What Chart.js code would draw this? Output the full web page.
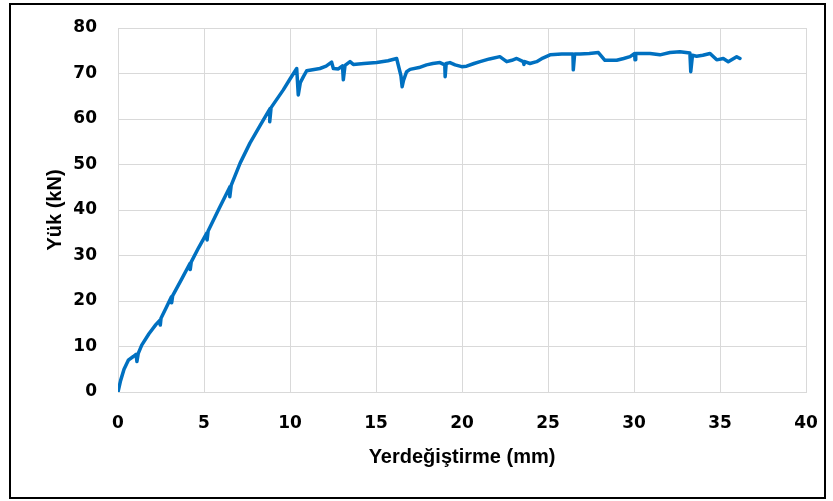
<!DOCTYPE html>
<html><head><meta charset="utf-8">
<script src="https://cdn.jsdelivr.net/npm/chart.js@4"></script>
<style>
html,body{margin:0;padding:0;background:#fff;width:833px;height:501px;overflow:hidden}
#frame{position:absolute;left:9px;top:3px;width:813px;height:492px;border:2px solid #000;}
canvas{position:absolute;left:0;top:0}
</style></head>
<body><div id="frame"></div><canvas id="c" width="833" height="501"></canvas>
<script>
const displacement = [0,0.15,0.35,0.6,0.89,1.05,1.1,1.18,1.38,1.8,2.2,2.44,2.46,2.5,2.8,3.1,3.12,3.18,3.7,4.19,4.2,4.26,4.7,5.16,5.18,5.24,5.9,6.51,6.5,6.58,7.1,7.67,8.3,8.84,8.82,8.9,9.61,10.0,10.39,10.48,10.6,10.78,10.97,11.4,11.74,12.1,12.42,12.52,12.81,13.05,13.1,13.2,13.49,13.68,14.3,15.04,15.7,16.2,16.45,16.52,16.6,16.78,16.98,17.5,17.94,18.3,18.72,19.0,19.02,19.08,19.3,19.6,19.98,20.27,20.7,21.05,21.6,22.2,22.6,22.9,23.18,23.56,23.6,23.65,23.95,24.34,24.7,25.12,25.8,26.45,26.47,26.55,26.86,27.4,27.93,28.31,28.99,29.4,29.77,30.04,30.06,30.1,30.93,31.51,32.09,32.67,33.25,33.3,33.4,33.64,34.0,34.42,34.81,35.19,35.48,35.97,36.16];
const load = [0,2.5,5,7,7.8,8.3,6.7,8.5,10.3,12.8,14.8,15.8,14.7,16.2,18.5,20.9,19.6,21.2,24.8,28.3,26.9,28.6,31.8,34.9,33.4,35.4,40.5,45.1,42.9,45.4,50.3,54.7,58.8,62.3,59.4,62.5,66.4,68.8,71.1,65.3,68.0,69.3,70.6,70.9,71.1,71.6,72.5,71.1,71.0,71.7,68.6,71.8,72.6,72.0,72.2,72.4,72.8,73.3,69.5,67.1,68.5,70.4,70.9,71.3,71.9,72.2,72.4,71.9,69.3,72.2,72.4,71.9,71.5,71.6,72.2,72.6,73.2,73.7,72.6,72.9,73.3,72.6,72.0,72.6,72.2,72.6,73.4,74.1,74.3,74.3,70.8,74.3,74.3,74.4,74.6,72.9,72.9,73.3,73.7,74.4,73.0,74.4,74.4,74.1,74.6,74.8,74.5,70.4,74.0,73.8,74.0,74.4,73.0,73.3,72.6,73.7,73.3];
const xTitle = "Yerdeğiştirme (mm)";
const yTitle = "Yük (kN)";

const pts = displacement.map((x,i)=>({x:x,y:load[i]}));
const tickFont = {family:"'DejaVu Sans'", weight:'bold', size:17};
const titleFont = {family:"'Liberation Sans'", weight:'bold', size:20};
new Chart(document.getElementById('c'), {
  type:'scatter',
  data:{datasets:[{data:pts, showLine:true, borderColor:'#0070C0', backgroundColor:'#0070C0', borderWidth:3.5, pointRadius:0, tension:0, borderJoinStyle:'round', borderCapStyle:'round'}]},
  options:{
    responsive:false, animation:false,
    layout:{padding:{top:28,right:27,left:0,bottom:0}},
    plugins:{legend:{display:false}, tooltip:{enabled:false}},
    scales:{
      x:{type:'linear', min:0, max:40,
        ticks:{stepSize:5, font:tickFont, color:'#000', padding:0, maxRotation:0},
        grid:{color:'#d9d9d9', drawTicks:true, tickLength:21, tickColor:'rgba(0,0,0,0)'},
        border:{color:'#d9d9d9'},
        title:{display:true, text:xTitle, font:titleFont, color:'#000', padding:{top:0,bottom:32}},
        afterFit:(s)=>{s.height=109;}
      },
      y:{type:'linear', min:0, max:80,
        ticks:{stepSize:10, font:tickFont, color:'#000', padding:0},
        grid:{color:'#d9d9d9', drawTicks:true, tickLength:21, tickColor:'rgba(0,0,0,0)'},
        border:{color:'#d9d9d9'},
        title:{display:true, text:yTitle, font:titleFont, color:'#000', padding:{top:43,bottom:0}},
        afterFit:(s)=>{s.width=118;}
      }
    }
  }
});
</script>
</body></html>
